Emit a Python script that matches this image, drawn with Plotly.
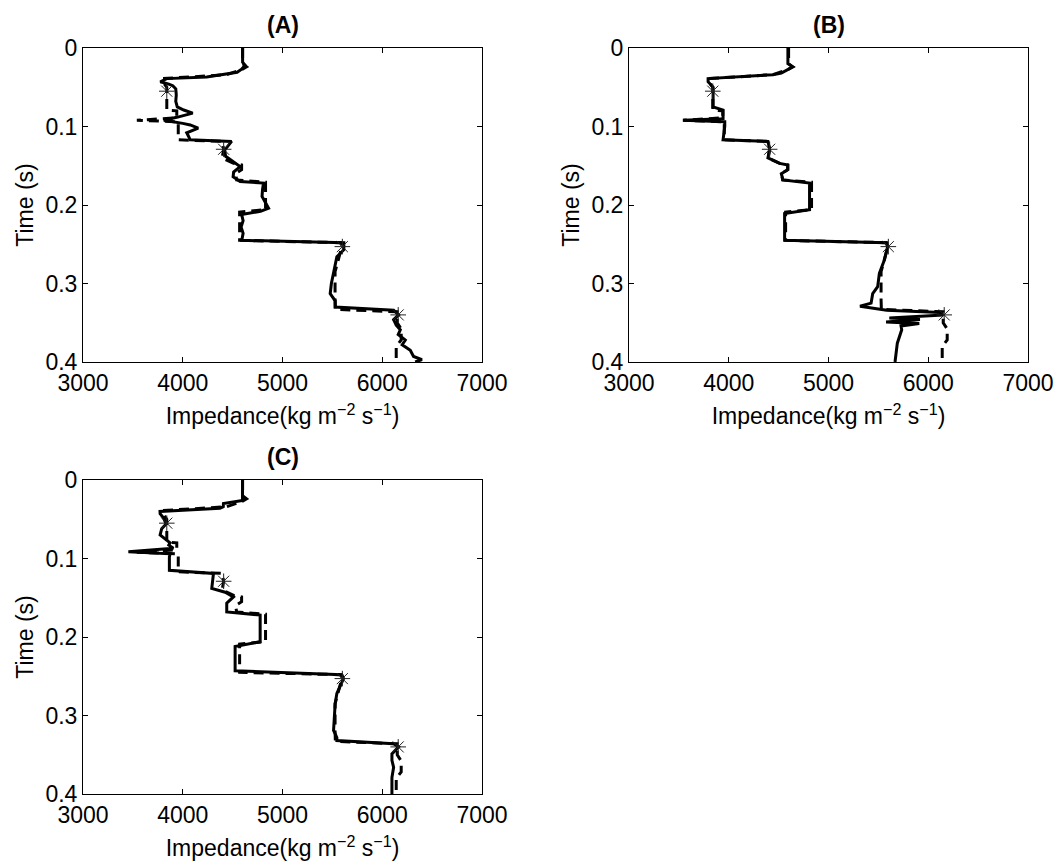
import plotly.graph_objects as go

# ---------------- data ----------------
# true (reference) impedance model, drawn dashed
true_time = [0.000, 0.020, 0.024, 0.027, 0.030, 0.034, 0.039, 0.043, 0.050, 0.079, 0.080, 0.089,
             0.092, 0.094, 0.117, 0.119, 0.129, 0.140, 0.147, 0.149, 0.155, 0.160, 0.168, 0.171,
             0.206, 0.209, 0.245, 0.248, 0.253, 0.270, 0.285, 0.320, 0.333, 0.336, 0.350, 0.358,
             0.372, 0.380, 0.400]
true_imp = [4600, 4600, 4640, 4600, 4530, 4440, 3800, 3800, 3840, 3840, 3940, 3940,
            3540, 3955, 3955, 4395, 4410, 4395, 4510, 4590, 4590, 4530, 4540, 4830,
            4830, 4570, 4570, 5585, 5595, 5560, 5527, 5527, 5530, 6150, 6150, 6190,
            6190, 6140, 6140]

# inversion result (A)
a_time = [0.000, 0.018, 0.022, 0.027, 0.031, 0.034, 0.037, 0.039, 0.043, 0.046, 0.048, 0.052,
          0.060, 0.068, 0.075, 0.079, 0.083, 0.088, 0.092, 0.096, 0.098, 0.102, 0.108, 0.113,
          0.117, 0.119, 0.130, 0.138, 0.144, 0.151, 0.158, 0.164, 0.170, 0.172, 0.180, 0.189,
          0.197, 0.204, 0.208, 0.212, 0.220, 0.228, 0.236, 0.245, 0.248, 0.257, 0.266, 0.275,
          0.287, 0.300, 0.313, 0.322, 0.330, 0.334, 0.340, 0.346, 0.353, 0.359, 0.365, 0.372,
          0.378, 0.385, 0.393, 0.397, 0.400]
a_imp = [4600, 4600, 4625, 4590, 4545, 4380, 4240, 3840, 3775, 3860, 3900, 3930,
         3935, 3930, 3945, 4010, 4100, 3950, 3810, 4000, 4075, 4155, 4040, 4060,
         4074, 4490, 4420, 4430, 4500, 4575, 4510, 4505, 4575, 4810, 4800, 4795,
         4830, 4860, 4780, 4590, 4605, 4585, 4605, 4592, 5615, 5615, 5545, 5530,
         5515, 5490, 5478, 5528, 5528, 6114, 6164, 6114, 6140, 6181, 6160, 6231,
         6200, 6281, 6314, 6398, 6330]

# inversion result (B)
b_time = [0.000, 0.020, 0.024, 0.027, 0.032, 0.034, 0.039, 0.043, 0.050, 0.054, 0.075, 0.079,
          0.090, 0.092, 0.094, 0.100, 0.117, 0.119, 0.129, 0.140, 0.147, 0.149, 0.155, 0.160,
          0.168, 0.172, 0.206, 0.211, 0.245, 0.248, 0.253, 0.270, 0.287, 0.304, 0.313, 0.325,
          0.329, 0.334, 0.337, 0.340, 0.344, 0.346, 0.349, 0.351, 0.354, 0.359, 0.376, 0.400]
b_imp = [4593, 4593, 4643, 4600, 4527, 4443, 3793, 3793, 3843, 3843, 3843, 3943,
         3943, 3543, 3960, 3960, 3943, 4393, 4410, 4393, 4510, 4593, 4593, 4527,
         4543, 4810, 4810, 4560, 4560, 5577, 5593, 5560, 5510, 5493, 5443, 5427,
         5316, 5583, 6118, 6150, 5610, 5917, 5577, 5910, 5727, 5734, 5690, 5667]

# inversion result (C)
c_time = [0.000, 0.026, 0.030, 0.034, 0.036, 0.040, 0.043, 0.048, 0.056, 0.062, 0.070, 0.077,
          0.080, 0.083, 0.087, 0.0915, 0.094, 0.098, 0.115, 0.119, 0.138, 0.143, 0.149, 0.157,
          0.168, 0.172, 0.206, 0.212, 0.243, 0.248, 0.253, 0.272, 0.285, 0.319, 0.328, 0.332,
          0.336, 0.340, 0.349, 0.357, 0.366, 0.379, 0.400]
c_imp = [4599, 4599, 4408, 4406, 4373, 3772, 3773, 3806, 3833, 3789, 3773, 3839,
         3873, 3860, 3906, 3455, 3873, 3866, 3866, 4308, 4291, 4425, 4508, 4441,
         4441, 4776, 4776, 4525, 4525, 5595, 5612, 5545, 5528, 5512, 5545, 5545,
         6114, 6164, 6097, 6097, 6114, 6097, 6097]

# well-log control points (asterisks)
well_time = [0.055, 0.129, 0.253, 0.340]
well_imp = [3840, 4410, 5600, 6160]

panel_titles = ["(A)", "(B)", "(C)"]
x_ticks = [3000, 4000, 5000, 6000, 7000]
x_tick_text = ["3000", "4000", "5000", "6000", "7000"]
y_ticks = [0, 0.1, 0.2, 0.3, 0.4]
y_tick_text = ["0", "0.1", "0.2", "0.3", "0.4"]

# ---------------- figure ----------------
W, H = 1062, 867
FONT = "Arial, 'Liberation Sans', sans-serif"
FS = 23

# axes boxes in pixels: (left, right, top, bottom)
boxes = [(83, 482, 48, 362), (629, 1028, 48, 362), (83, 482, 480, 794)]
solids = [(a_imp, a_time), (b_imp, b_time), (c_imp, c_time)]

fig = go.Figure()
layout = dict(
    width=W, height=H,
    margin=dict(l=0, r=0, t=0, b=0),
    paper_bgcolor="white", plot_bgcolor="white",
    showlegend=False,
    font=dict(family=FONT, size=FS, color="black"),
    annotations=[],
)

for i, ((l, r, t, b), (simp, stime), title) in enumerate(zip(boxes, solids, panel_titles)):
    n = "" if i == 0 else str(i + 1)
    xa, ya = "x" + n, "y" + n
    fig.add_trace(go.Scatter(x=true_imp, y=true_time, mode="lines", xaxis=xa, yaxis=ya,
                             line=dict(color="black", width=3, dash="10px,6px"),
                             hoverinfo="skip"))
    fig.add_trace(go.Scatter(x=simp, y=stime, mode="lines", xaxis=xa, yaxis=ya,
                             line=dict(color="black", width=3)))
    fig.add_trace(go.Scatter(x=well_imp, y=well_time, mode="markers", xaxis=xa, yaxis=ya,
                             marker=dict(symbol="asterisk-open", size=13, color="#222222",
                                         line=dict(color="#222222", width=1))))
    common = dict(showgrid=False, zeroline=False, showline=True, linecolor="black", linewidth=1,
                  mirror="ticks", ticks="inside", ticklen=5, tickcolor="black", tickwidth=1,
                  automargin=False, tickfont=dict(family=FONT, size=FS, color="black"))
    layout["xaxis" + n] = dict(
        common, domain=[l / W, r / W], range=[3000, 7000], anchor=ya,
        tickvals=x_ticks, ticktext=x_tick_text,
        title=dict(text="Impedance(kg m<sup>−2</sup> s<sup>−1</sup>)", standoff=13,
                   font=dict(family=FONT, size=FS, color="black")))
    layout["yaxis" + n] = dict(
        common, domain=[1 - b / H, 1 - t / H], range=[0.4, 0], anchor=xa,
        tickvals=y_ticks, ticktext=y_tick_text,
        title=dict(text="Time (s)", standoff=5,
                   font=dict(family=FONT, size=FS, color="black")))
    layout["annotations"].append(dict(
        text="<b>" + title + "</b>", xref="paper", yref="paper",
        x=(l + r) / 2 / W, y=1 - (t - 23) / H, xanchor="center", yanchor="middle",
        showarrow=False, font=dict(family=FONT, size=FS, color="black")))

fig.update_layout(**layout)
fig.write_html("out.html", config={"displayModeBar": False},
               post_script="document.body.style.margin='0';document.body.style.overflow='hidden';")
